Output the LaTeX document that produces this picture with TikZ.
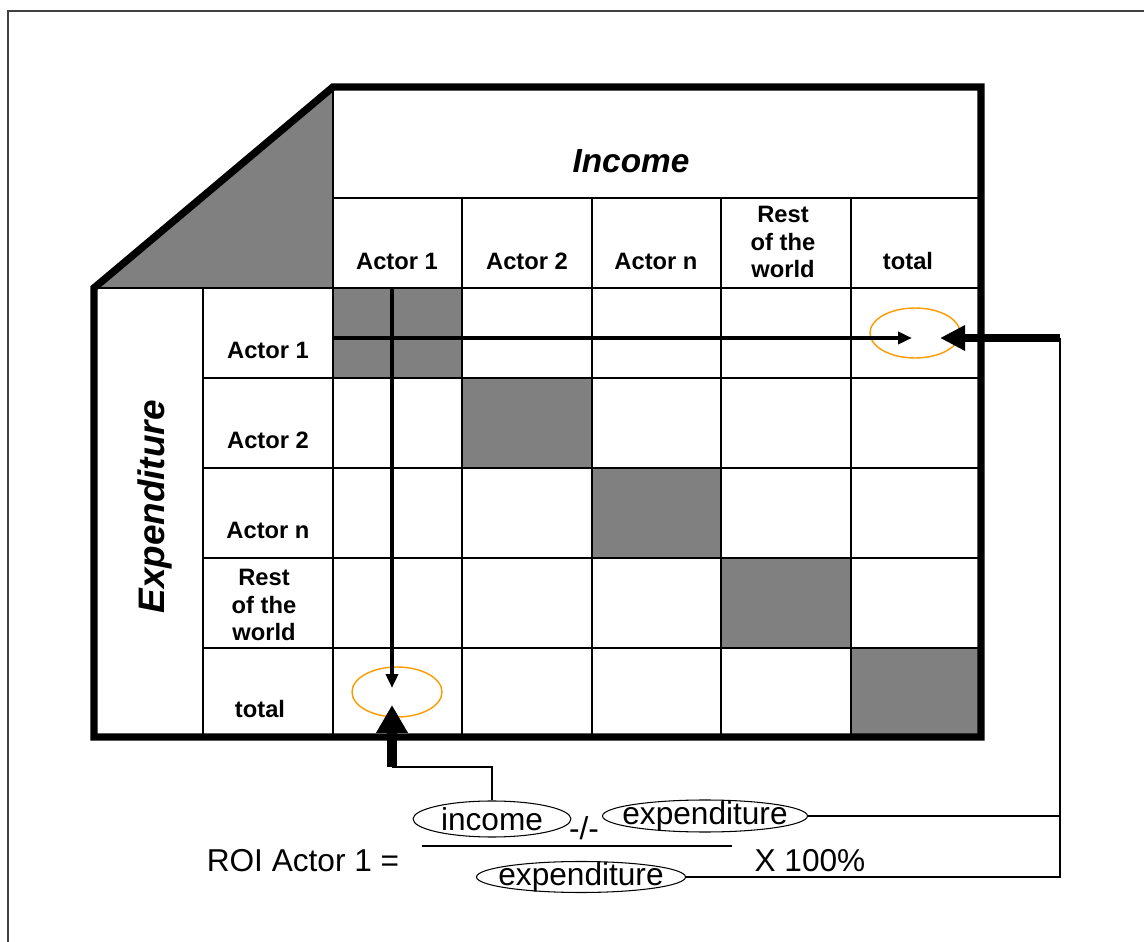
\documentclass[tikz,border=0pt]{standalone}
\usepackage{fontspec}
\setmainfont{Liberation Sans}
\usetikzlibrary{shapes, arrows, arrows.meta, positioning}

\begin{document}
\begin{tikzpicture}[x=0.02cm,y=-0.02cm,>=stealth',
	grid/.style={line width=1pt},
	border/.style={line width=4.2pt,line join=miter},
	hdr/.style={font=\fontsize{13.5}{15.5}\selectfont\bfseries,align=center,inner sep=0pt},
	frm/.style={font=\fontsize{18}{20}\selectfont,inner sep=0pt},
	oval/.style={ellipse,draw,line width=0.6pt,inner sep=0pt},
	hilite/.style={ellipse,draw={rgb,255:red,255;green,153;blue,0},line width=0.8pt,minimum width=1.8cm,minimum height=1cm,inner sep=0pt},
	flow/.style={-{Triangle[length=0.28cm,width=0.24cm]},line width=2pt},
	link/.style={line width=0.7pt},
	bigarrow/.style={-{Triangle[length=0.56cm,width=0.6cm]},line width=0.2cm}]
	\useasboundingbox (0,0) rectangle (1144,942);

	% outer frame
	\draw[black!75,line width=1.2pt] (8,942) -- (8,11) -- (1144,11);

	% shaded corner and diagonal cells
	\fill[gray] (95,288) -- (333,87) -- (333,288) -- cycle;
	\foreach \x/\y in {333/288, 462/378, 592/468, 721/558, 851/648}
		\fill[gray] (\x,\y) rectangle ++(129,90);

	% grid
	\draw[grid] (333,198) -- (981,198);
	\draw[grid] (94,288) -- (981,288);
	\foreach \y in {378,468,558,648}
		\draw[grid] (203,\y) -- (981,\y);
	\draw[grid] (203,288) -- (203,737);
	\draw[grid] (333,87) -- (333,737);
	\foreach \x in {462,592,721,851}
		\draw[grid] (\x,198) -- (\x,737);

	% thick border
	\draw[border] (94,737) -- (94,288) -- (333,87) -- (981,87) -- (981,737) -- cycle;

	% headings
	\node[font=\fontsize{19}{21}\selectfont\bfseries\itshape] (income) at (631,161) {Income};
	\node[font=\fontsize{21}{23}\selectfont\bfseries\itshape,rotate=90] (expend) at (155,507) {Expenditure};

	\node[hdr] (hA1) at (397,261) {Actor 1};
	\node[hdr] (hA2) at (527,261) {Actor 2};
	\node[hdr] (hAn) at (656,261) {Actor n};
	\node[hdr] (hRW) at (783,242) {Rest\\of the\\world};
	\node[hdr] (hTot) at (908,261) {total};

	\node[hdr] (rA1) at (268,350) {Actor 1};
	\node[hdr] (rA2) at (268,440) {Actor 2};
	\node[hdr] (rAn) at (268,530) {Actor n};
	\node[hdr] (rRW) at (264,605) {Rest\\of the\\world};
	\node[hdr] (rTot) at (260,709) {total};

	% marked totals
	\node[hilite] (rowSum) at (915,333) {};
	\node[hilite] (colSum) at (397,692) {};

	\coordinate (rowStart) at (333,338);
	\coordinate (rowEnd) at (912,338);
	\coordinate (colStart) at (392,288);
	\coordinate (colEnd) at (392,688);
	\draw[flow] (rowStart) -- (rowEnd);
	\draw[flow] (colStart) -- (colEnd);

	% formula
	\node[frm] (roi) at (303,861) {ROI Actor 1 =};
	\node[oval,minimum width=3.16cm,minimum height=0.72cm] (incO) at (492,819) {};
	\node[frm] (inc) at (incO) {income};
	\node[frm] (minus) at (584,828) {-/-};
	\node[oval,minimum width=4.1cm,minimum height=0.64cm] (expT) at (705,816) {};
	\node[frm] (expTt) at (expT) {expenditure};
	\node[oval,minimum width=4.18cm,minimum height=0.62cm] (expB) at (581,877) {};
	\node[frm] (expBt) at (expB) {expenditure};
	\node[frm] (pct) at (810,861) {X 100\%};
	\draw[line width=0.8pt] (422,846) -- (732,846);

	% connectors
	\coordinate (colTail) at (392,767);
	\coordinate (colTip) at (392,705);
	\coordinate (rowTail) at (1060,338);
	\coordinate (rowTip) at (940,338);
	\draw[link] (incO.north) |- (colTail);
	\draw[bigarrow] (colTail) -- (colTip);
	\draw[link] (expB.east) -| (rowTail);
	\draw[link] (expT.east) -- (expT.east -| rowTail);
	\draw[bigarrow,line width=0.16cm,-{Triangle[length=0.5cm,width=0.48cm]}] (rowTail) -- (rowTip);
\end{tikzpicture}
\end{document}
